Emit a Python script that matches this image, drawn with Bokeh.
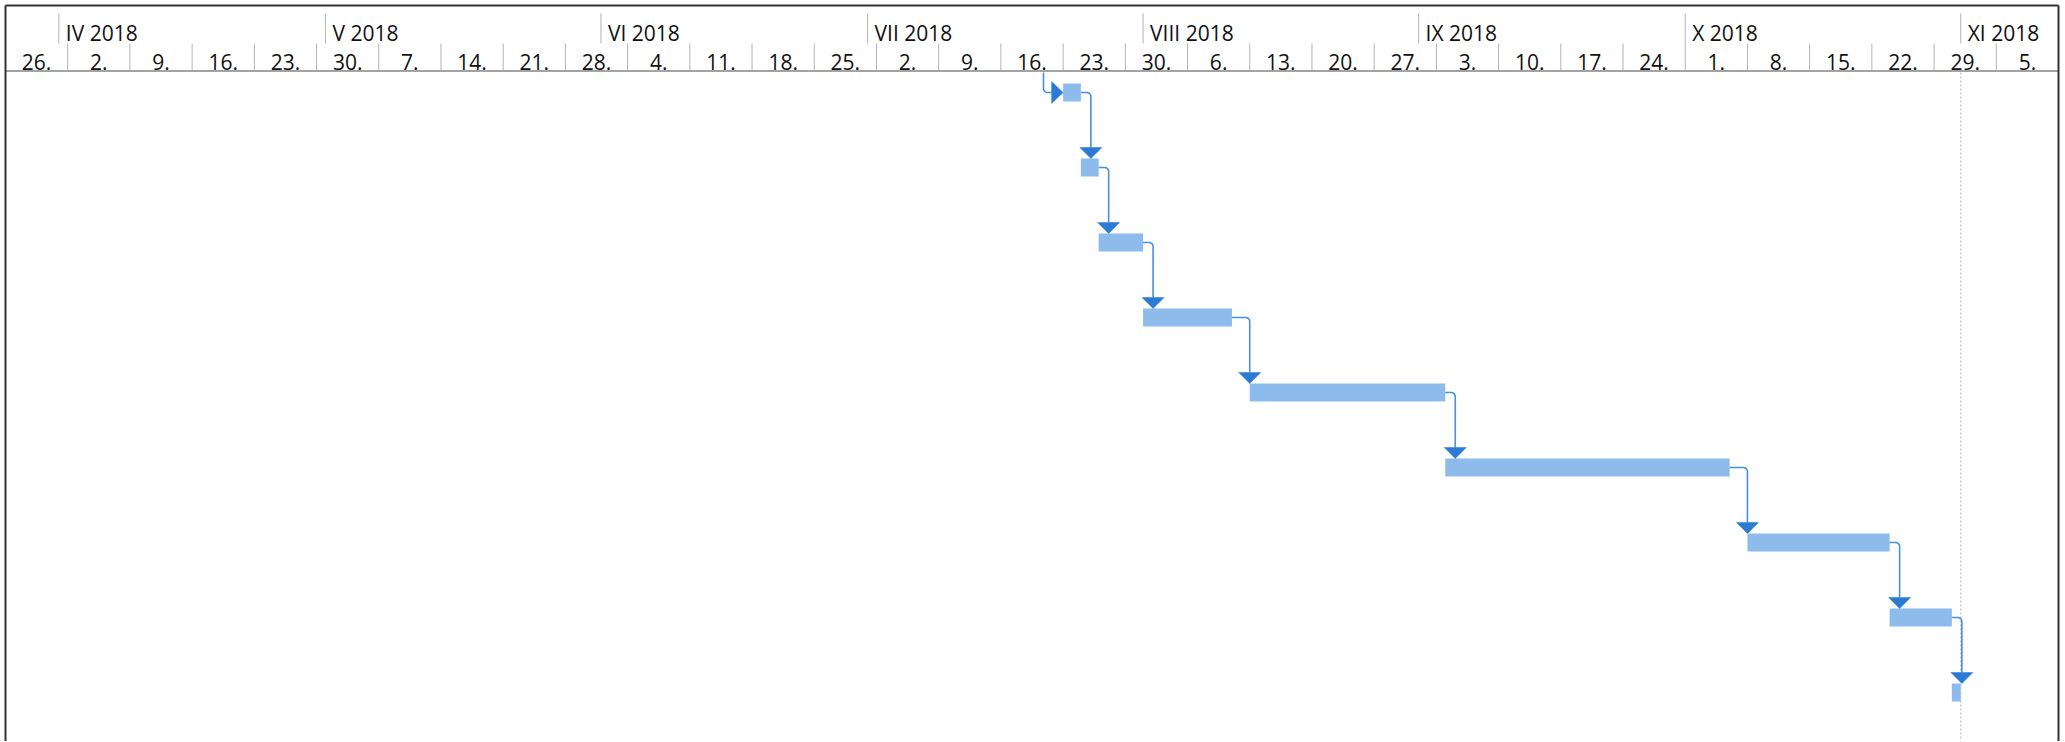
import numpy as np
import pandas as pd
from bokeh.plotting import figure
from bokeh.models import Range1d
from bokeh.embed import file_html
from bokeh.resources import INLINE
from bokeh.core.properties import value

# ---------------- data ----------------
task_start = ["2018-07-23", "2018-07-25", "2018-07-27", "2018-08-01", "2018-08-13",
              "2018-09-04", "2018-10-08", "2018-10-24", "2018-10-31"]
task_end = ["2018-07-25", "2018-07-27", "2018-08-01", "2018-08-11", "2018-09-04",
            "2018-10-06", "2018-10-24", "2018-10-31", "2018-11-01"]
predecessor_end = "2018-07-20 19:00"
today = "2018-11-01"
view_start = "2018-03-26"
view_end = "2018-11-12"

month_starts = ["2018-04-01", "2018-05-01", "2018-06-01", "2018-07-01",
                "2018-08-01", "2018-09-01", "2018-10-01", "2018-11-01"]
month_labels = ["IV 2018", "V 2018", "VI 2018", "VII 2018",
                "VIII 2018", "IX 2018", "X 2018", "XI 2018"]
week_labels = ["26.", "2.", "9.", "16.", "23.", "30.", "7.", "14.", "21.", "28.",
               "4.", "11.", "18.", "25.", "2.", "9.", "16.", "23.", "30.", "6.",
               "13.", "20.", "27.", "3.", "10.", "17.", "24.", "1.", "8.", "15.",
               "22.", "29.", "5."]


def ms_list(vals):
    return np.array([pd.Timestamp(v).value // 10**6 for v in vals], dtype=float)


def ms(v):
    return float(pd.Timestamp(v).value // 10**6)


DAY = 86400000.0
starts = ms_list(task_start)
ends = ms_list(task_end)
idx = np.arange(len(task_start), dtype=float)
week_ms = ms_list(pd.date_range(view_start, periods=len(week_labels), freq="7D"))
month_ms = ms_list(month_starts)
vs, ve = ms(view_start), ms(view_end)

# ---------------- layout / style (pixels) ----------------
W, H = 2063, 741
LEFT_PX, RIGHT_PX = 5, 2058          # chart box edges
ROW_PX = 75.0
ROW0_PX = 92.0                        # centre of first row
px_x = (ve - vs) / (RIGHT_PX - LEFT_PX)
px_y = 1.0 / ROW_PX
x_lo = vs - LEFT_PX * px_x
x_hi = x_lo + W * px_x


def yd(p):
    """page pixel row -> row units"""
    return (p - ROW0_PX) / ROW_PX


FONT = value("Open Sans")
BAR_HALF = 9 * px_y

p = figure(width=W, height=H, x_range=Range1d(x_lo, x_hi),
           y_range=Range1d(yd(H), yd(0)), output_backend="svg", toolbar_location=None,
           min_border=0, x_axis_location=None, y_axis_location=None)
p.grid.visible = False
p.outline_line_color = None

# ---- header ----
sep_color = "#b3b3b3"
p.segment(x0=month_ms, x1=month_ms, y0=yd(13), y1=yd(43), line_color=sep_color, line_width=1)
p.segment(x0=week_ms[1:], x1=week_ms[1:], y0=yd(43), y1=yd(70), line_color=sep_color,
          line_width=1)
p.text(x=month_ms, y=yd(32.5), text=month_labels, text_font=FONT, text_font_size="21px",
       text_align="left", text_baseline="alphabetic", x_offset=7, text_color="#111111")
p.text(x=week_ms + 3.5 * DAY, y=yd(61), text=week_labels, text_font=FONT,
       text_font_size="21px", text_align="center", text_baseline="alphabetic",
       text_color="#111111")
p.segment(x0=[vs], x1=[ve], y0=[yd(70.5)], y1=[yd(70.5)], line_color="#a3a3a3", line_width=2)

# ---- today line ----
p.segment(x0=[ms(today)], x1=[ms(today)], y0=[yd(72)], y1=[yd(H)], line_color="#b4b4b4",
          line_dash="2 2", line_width=1)

# ---- bars ----
p.quad(left=starts, right=ends, top=idx - BAR_HALF, bottom=idx + BAR_HALF,
       fill_color="#8cbbec", line_color=None)

# ---- connectors ----
r = 4.0
line_xs, line_ys, arr_xs, arr_ys = [], [], [], []
t = np.linspace(0, np.pi / 2, 7)
for i in range(len(idx) - 1):
    xe, yc = ends[i], idx[i]
    xv = max(xe + 10 * px_x, starts[i + 1])
    y_tip = idx[i + 1] - BAR_HALF
    y_base = y_tip - 11 * px_y
    cx, cy = xv - r * px_x, yc + r * px_y
    line_xs.append([xe] + list(cx + r * px_x * np.sin(t)) + [xv])
    line_ys.append([yc] + list(cy - r * px_y * np.cos(t)) + [y_base])
    arr_xs.append([xv - 11 * px_x, xv + 11 * px_x, xv])
    arr_ys.append([y_base, y_base, y_tip])

xv0 = ms(predecessor_end)
tip_x = starts[0]
base_x = tip_x - 11.5 * px_x
cx, cy = xv0 + r * px_x, idx[0] - r * px_y
line_xs.append([xv0] + list(cx - r * px_x * np.cos(t)) + [base_x])
line_ys.append([yd(72)] + list(cy + r * px_y * np.sin(t)) + [idx[0]])
arr_xs.append([base_x, base_x, tip_x])
arr_ys.append([idx[0] - 11 * px_y, idx[0] + 11 * px_y, idx[0]])

p.multi_line(xs=line_xs, ys=line_ys, line_color="#4a90dc", line_width=1.6)
p.patches(xs=arr_xs, ys=arr_ys, fill_color="#2b7bd4", line_color="#2b7bd4", line_width=0.5)

# ---- chart box ----
p.segment(x0=[vs, ve, vs], x1=[vs, ve, ve], y0=[yd(5), yd(5), yd(5)],
          y1=[yd(H), yd(H), yd(5)], line_color="#333333", line_width=2)

open("out.html", "w").write(file_html(p, INLINE))
